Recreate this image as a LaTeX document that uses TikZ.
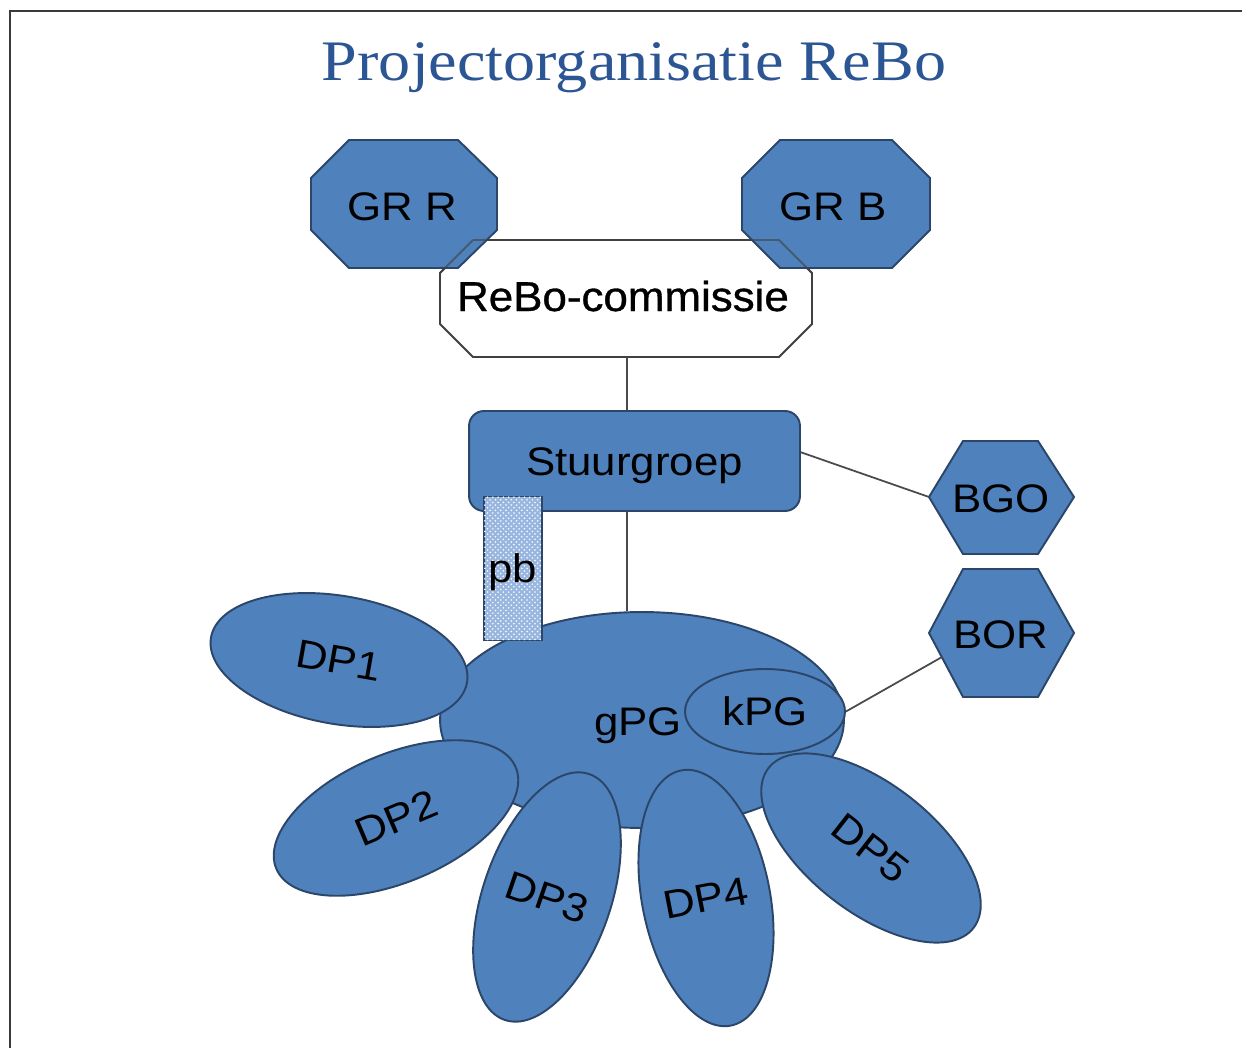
\documentclass[tikz,border=0pt]{standalone}
\usepackage{fontspec}
\usepackage{graphicx}
\setmainfont{Liberation Sans}
\newfontfamily\titlefont{Liberation Serif}
\newfontfamily\heavyfont[FakeBold=0.8]{Liberation Sans}
\usetikzlibrary{shapes.geometric,patterns}

\definecolor{boxblue}{HTML}{4F81BD}
\definecolor{boxline}{HTML}{2B4668}
\definecolor{titleblue}{HTML}{2C5594}
\definecolor{wirecol}{HTML}{4A4A4A}
\definecolor{framecol}{HTML}{3A3A3A}
\definecolor{pbbase}{HTML}{98B6DF}

% label text is set slightly wide
\newcommand\lbl[1]{\scalebox{1.1}[1]{#1}}

\tikzset{
  blueshape/.style={fill=boxblue, draw=boxline, line width=1.1pt},
  lab/.style={font=\fontsize{22.68pt}{27pt}\selectfont, text=black, inner sep=0pt},
  petal/.style={blueshape, ellipse, inner sep=0pt, lab, text height=16pt, text depth=0pt},
  wire/.style={draw=wirecol, line width=1pt},
  reboline/.style={draw=black!75, line width=1.1pt},
}

\begin{document}
\begin{tikzpicture}[x=0.02cm, y=-0.02cm]
  \useasboundingbox (0,0) rectangle (1242,1048);
  \fill[white] (0,0) rectangle (1242,1048);

  % page frame
  \draw[framecol, line width=1.2pt] (10,1060) -- (10,11) -- (1260,11);

  % title
  \node[text=titleblue, font=\titlefont\fontsize{32.6pt}{38pt}\selectfont,
        anchor=base, inner sep=0pt] (title) at (634,80)
        {\scalebox{1.12}[1]{Projectorganisatie ReBo}};

  % ReBo-commissie box
  \draw[reboline, fill=white]
    (473,240) -- (779,240) -- (812,273) -- (812,324) -- (779,357)
    -- (473,357) -- (440,324) -- (440,273) -- cycle;
  \coordinate (rebo-s) at (627,357);

  % GR R and GR B
  \draw[blueshape]
    (349,140) -- (458,140) -- (497,178) -- (497,230) -- (458,268)
    -- (349,268) -- (311,230) -- (311,178) -- cycle;
  \node[lab, anchor=base] (grr) at (402,220) {\lbl{GR R}};
  \draw[blueshape]
    (780,140) -- (892,140) -- (930,178) -- (930,230) -- (892,268)
    -- (780,268) -- (742,230) -- (742,178) -- cycle;
  \node[lab, anchor=base] (grb) at (833,220) {\lbl{GR B}};

  % commission outline stays visible where the councils overlap it
  \draw[reboline, draw opacity=0.6]
    (473,240) -- (779,240) -- (812,273) (440,273) -- (473,240);
  \node[lab, font=\heavyfont\fontsize{23.8pt}{28pt}\selectfont, anchor=base] (rebo) at (623,311)
    {\scalebox{1.05}[1]{ReBo-commissie}};

  % BGO and BOR
  \draw[blueshape]
    (963,441) -- (1038,441) -- (1074,497) -- (1038,554) -- (963,554) -- (929,497) -- cycle;
  \coordinate (bgo-w) at (929,497);
  \node[lab, anchor=base] (bgo) at (1001,512) {\lbl{BGO}};
  \draw[blueshape]
    (963,569) -- (1038,569) -- (1074,633) -- (1038,697) -- (963,697) -- (929,633) -- cycle;
  \coordinate (bor-sw) at (942,657);
  \node[lab, anchor=base] (bor) at (1001,648) {\lbl{BOR}};

  % Stuurgroep
  \node[blueshape, rounded corners=8.5pt, minimum width=6.62cm, minimum height=2cm,
        lab, text height=16pt, text depth=0pt] (stuur) at (634.5,461) {\lbl{Stuurgroep}};

  % groups
  \node[petal, minimum width=8.08cm, minimum height=4.32cm] (gpg) at (642,720) {};
  \node[lab, text height=16pt, text depth=0pt] (gpgl) at (638,721) {\lbl{gPG}};
  \node[petal, minimum width=3.2cm, minimum height=1.7cm] (kpg) at (765,711.5) {\lbl{kPG}};

  \node[petal, minimum width=5.2cm, minimum height=2.56cm, rotate=-10] (dp1) at (339,660) {\lbl{DP1}};
  \node[petal, minimum width=5.2cm, minimum height=2.56cm, rotate=23]  (dp2) at (396,818) {\lbl{DP2}};
  \node[petal, minimum width=2.56cm, minimum height=5.2cm, rotate=-19] (dp3) at (547,897) {\lbl{DP3}};
  \node[petal, minimum width=2.56cm, minimum height=5.2cm, rotate=11]  (dp4) at (706,898) {\lbl{DP4}};
  \node[petal, minimum width=5.2cm, minimum height=2.56cm, rotate=-38] (dp5) at (871,848) {\lbl{DP5}};

  % project office
  \node[draw=boxline, line width=1.1pt, fill=pbbase,
        postaction={pattern=crosshatch dots, pattern color=white},
        minimum width=1.16cm, minimum height=2.88cm, inner sep=0pt,
        lab, text height=16pt, text depth=0pt] (pb) at (513,568.5) {\lbl{pb}};

  % connectors
  \draw[wire] (rebo-s) -- (rebo-s |- stuur.north);
  \draw[wire] (rebo-s |- stuur.south) -- (rebo-s |- gpg.north);
  \draw[wire] (stuur.3) -- (bgo-w);
  \draw[wire] (kpg.east) -- (bor-sw);
\end{tikzpicture}
\end{document}
